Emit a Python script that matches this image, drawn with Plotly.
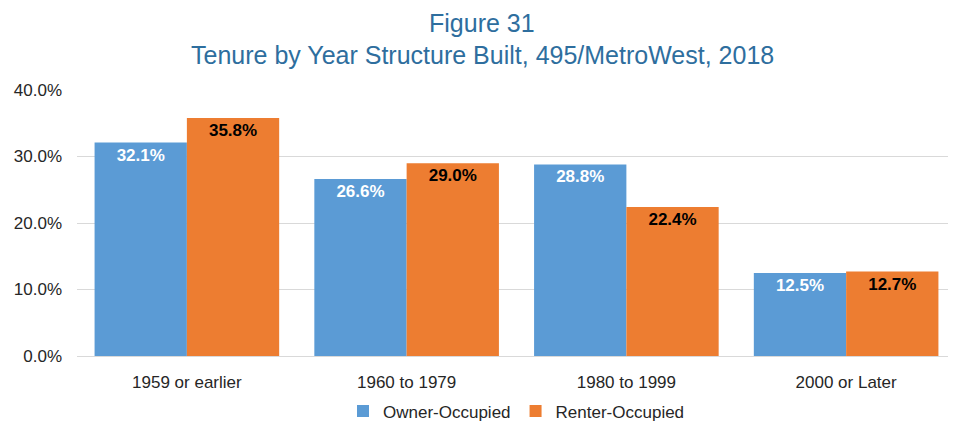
import plotly.graph_objects as go

categories = ["1959 or earlier", "1960 to 1979", "1980 to 1999", "2000 or Later"]
owner = [32.1, 26.6, 28.8, 12.5]
renter = [35.8, 29.0, 22.4, 12.7]
y_ticks = [0, 10, 20, 30, 40]
y_tick_labels = ["0.0%", "10.0%", "20.0%", "30.0%", "40.0%"]
title_lines = ["Figure 31", "Tenure by Year Structure Built, 495/MetroWest, 2018"]

FONT = "Liberation Sans, Arial, sans-serif"
TITLE_COLOR = "#2E6E9E"

fig = go.Figure()
fig.add_trace(go.Bar(
    name="Owner-Occupied", x=categories, y=owner,
    marker=dict(color="#5B9BD5", line=dict(width=0)),
    text=[f"{v:.1f}%" for v in owner], textposition="inside",
    insidetextanchor="end",
    textfont=dict(color="white", size=17, family=FONT, weight="bold"),
))
fig.add_trace(go.Bar(
    name="Renter-Occupied", x=categories, y=renter,
    marker=dict(color="#ED7D31", line=dict(width=0)),
    text=[f"{v:.1f}%" for v in renter], textposition="inside",
    insidetextanchor="end",
    textfont=dict(color="black", size=17, family=FONT, weight="bold"),
))

# title lines as annotations, centred on the figure (not the plot area)
fig.add_annotation(text=title_lines[0], xref="paper", yref="paper",
                   x=0.4608, y=1.252, xanchor="center", yanchor="middle",
                   showarrow=False, font=dict(size=25, color=TITLE_COLOR, family=FONT))
fig.add_annotation(text=title_lines[1], xref="paper", yref="paper",
                   x=0.4608, y=1.1316, xanchor="center", yanchor="middle",
                   showarrow=False, font=dict(size=25, color=TITLE_COLOR, family=FONT))

fig.update_layout(
    width=948, height=418,
    paper_bgcolor="white", plot_bgcolor="white",
    barmode="group", bargap=0.16, bargroupgap=0.0,
    margin=dict(l=69, r=0, t=82, b=70),
    font=dict(family=FONT, size=17, color="#262626"),
    uniformtext=dict(minsize=17, mode="show"),
    legend=dict(
        orientation="h", x=0.5, xanchor="center",
        yref="container", y=0.035, yanchor="middle",
        font=dict(size=17, color="#262626"), itemwidth=30,
    ),
    xaxis=dict(showline=False, ticks="", ticklabelstandoff=14,
               tickfont=dict(size=17, color="#262626")),
    yaxis=dict(
        range=[0, 40], tickvals=y_ticks, ticktext=y_tick_labels,
        showgrid=True, gridcolor="#D9D9D9", gridwidth=1,
        zeroline=True, zerolinecolor="#D9D9D9", zerolinewidth=1,
        showline=False, ticks="", ticklabelstandoff=14,
        tickfont=dict(size=17, color="#262626"),
    ),
)

fig.write_html("out.html")
